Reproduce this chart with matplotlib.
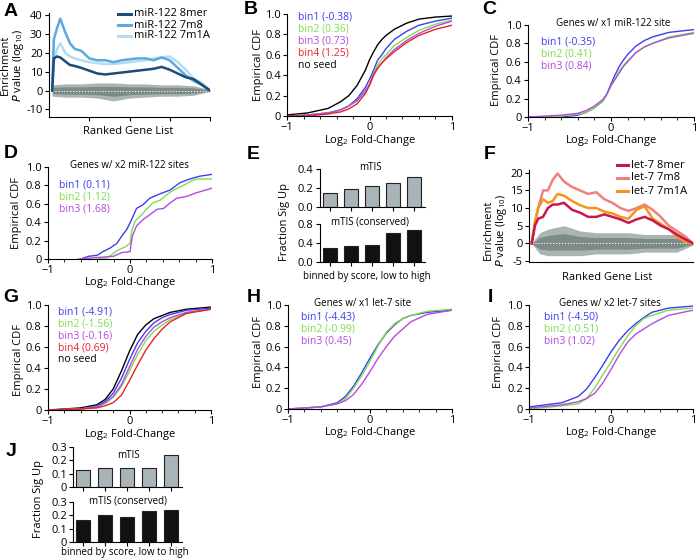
import numpy as np
import matplotlib
matplotlib.use("Agg")
import matplotlib.pyplot as plt

plt.rcParams['font.family'] = ['Open Sans', 'DejaVu Sans']
plt.rcParams['mathtext.default'] = 'regular'

W, H = 697, 559

# ---------------- data ----------------
# A: miR-122 enrichment
A_x = [0.02, 0.03, 0.05, 0.07, 0.1, 0.13, 0.16, 0.2, 0.25, 0.3, 0.35, 0.4,
       0.45, 0.5, 0.55, 0.6, 0.65, 0.7, 0.75, 0.8, 0.85, 0.9, 0.95, 1.0]
A_8mer = [0, 17, 18, 17.5, 15.5, 13.5, 13, 12, 10.5, 9, 8.5, 9,
          9.5, 10, 10.5, 11, 11.5, 12.5, 11, 9, 7, 6, 3, 0]
A_7m8 = [0, 27, 33, 38, 31, 25, 22, 21, 17, 16, 16, 15,
         16, 16.5, 17, 17, 16, 17.5, 16, 12, 8, 5, 3, 0]
A_7m1A = [0, 15, 22, 25, 20, 18, 17, 16, 15, 14.5, 14, 14,
          14.5, 15, 15.5, 16, 17, 17.5, 18, 15, 11, 6, 4, 0]
A_bg_x = [0.02, 0.1, 0.2, 0.3, 0.4, 0.5, 0.6, 0.7, 0.8, 0.9, 1.0]
A_bg_hi = [3, 3.5, 3.5, 4, 4, 3.5, 3.5, 3, 3, 2.5, 0.5]
A_bg_lo = [-3, -3.5, -3.5, -4, -5.5, -4, -3.5, -3, -3, -2.5, -0.5]

# F: let-7 enrichment
F_x = [0, 0.02, 0.04, 0.07, 0.1, 0.13, 0.16, 0.2, 0.25, 0.3, 0.35, 0.4,
       0.45, 0.5, 0.55, 0.6, 0.65, 0.7, 0.75, 0.8, 0.85, 0.9, 0.95, 1.0]
F_8mer = [0, 5, 7, 7.5, 10, 11, 11, 11.5, 9.5, 8.7, 7.5, 7.5,
          8.2, 7.5, 6.8, 5.8, 6.8, 7.5, 6.5, 5, 4, 2.5, 1.2, 0]
F_7m8 = [0, 6, 10, 15, 15, 18, 19.8, 17.5, 16, 15, 14, 14.5,
         12.5, 11.5, 10, 9.2, 10, 11, 9.5, 7.5, 5, 3.5, 2, 0]
F_7m1A = [0, 6, 10, 12.5, 11.5, 12, 14, 13.5, 12, 10.8, 10, 10,
          9, 8.5, 7.5, 7, 9.5, 10.5, 7, 5.5, 4, 2, 0.5, 0]
F_bg_x = [0.0, 0.05, 0.1, 0.2, 0.3, 0.4, 0.5, 0.6, 0.7, 0.8, 0.9, 1.0]
F_bg_hi = [0, 3, 4, 5, 3.5, 3, 3, 3, 2.5, 2.5, 2.5, 0.5]
F_bg_lo = [0, -3, -3.5, -3.5, -3.5, -3, -3, -3, -2.5, -2.5, -2.5, -0.5]

# B: miR-122 CDFs
B_x = [-1, -0.75, -0.5, -0.35, -0.25, -0.15, -0.05, 0, 0.05, 0.1, 0.15,
       0.2, 0.3, 0.45, 0.6, 0.8, 1]
B_noseed = [0.01, 0.03, 0.075, 0.14, 0.2, 0.3, 0.45, 0.55, 0.63, 0.7, 0.75,
            0.79, 0.85, 0.91, 0.95, 0.97, 0.98]
B_bin1 = [0.0, 0.01, 0.03, 0.06, 0.1, 0.17, 0.28, 0.36, 0.45, 0.55, 0.6,
          0.66, 0.75, 0.83, 0.89, 0.93, 0.96]
B_bin2 = [0.0, 0.01, 0.03, 0.06, 0.1, 0.15, 0.24, 0.31, 0.42, 0.5, 0.56,
          0.6, 0.69, 0.77, 0.84, 0.9, 0.94]
B_bin3 = [0.0, 0.01, 0.03, 0.06, 0.1, 0.15, 0.25, 0.31, 0.41, 0.47, 0.52,
          0.57, 0.65, 0.74, 0.81, 0.88, 0.93]
B_bin4 = [0.0, 0.0, 0.02, 0.04, 0.07, 0.12, 0.22, 0.3, 0.4, 0.47, 0.52,
          0.56, 0.63, 0.72, 0.79, 0.85, 0.89]
B_labels = ['bin1 (-0.38)', 'bin2 (0.36)', 'bin3 (0.73)', 'bin4 (1.25)', 'no seed']

# C: genes with one miR-122 site
C_x = [-1, -0.8, -0.6, -0.4, -0.3, -0.2, -0.1, -0.05, 0, 0.05, 0.1, 0.15,
       0.2, 0.3, 0.4, 0.5, 0.7, 1]
C_bin1 = [0, 0, 0.0, 0.02, 0.05, 0.1, 0.17, 0.25, 0.36, 0.46, 0.55, 0.62,
          0.68, 0.77, 0.83, 0.87, 0.92, 0.95]
C_bin2 = [0, 0, 0.01, 0.03, 0.05, 0.1, 0.17, 0.24, 0.34, 0.42, 0.5, 0.56,
          0.61, 0.7, 0.76, 0.8, 0.87, 0.92]
C_bin3 = [0, 0.01, 0.02, 0.04, 0.07, 0.12, 0.19, 0.25, 0.34, 0.41, 0.48, 0.55,
          0.6, 0.7, 0.76, 0.8, 0.86, 0.91]
C_labels = ['bin1 (-0.35)', 'bin2 (0.41)', 'bin3 (0.84)']

# D: genes with two miR-122 sites
D_x1 = [-0.57, -0.5, -0.4, -0.33, -0.24, -0.16, -0.1, -0.04, 0.02, 0.08, 0.16,
        0.24, 0.37, 0.49, 0.61, 0.73, 0.85, 1]
D_bin1 = [0.01, 0.03, 0.04, 0.08, 0.12, 0.17, 0.25, 0.32, 0.43, 0.55, 0.59,
          0.66, 0.71, 0.75, 0.83, 0.87, 0.9, 0.92]
D_x2 = [-0.4, -0.28, -0.22, -0.14, -0.06, 0, 0.02, 0.06, 0.12, 0.2, 0.28,
        0.37, 0.45, 0.53, 0.63, 0.73, 0.81, 1]
D_bin2 = [0.0, 0.01, 0.05, 0.1, 0.13, 0.17, 0.3, 0.41, 0.46, 0.54, 0.61,
          0.64, 0.7, 0.75, 0.79, 0.84, 0.87, 0.87]
D_x3 = [-0.63, -0.2, -0.1, 0, 0.03, 0.08, 0.16, 0.24, 0.33, 0.41, 0.49,
        0.57, 0.69, 0.81, 1]
D_bin3 = [0.0, 0.03, 0.07, 0.08, 0.25, 0.36, 0.43, 0.48, 0.54, 0.55, 0.61,
          0.66, 0.68, 0.72, 0.77]
D_labels = ['bin1 (0.11)', 'bin2 (1.12)', 'bin3 (1.68)']

# G: let-7 CDFs
GHI_x = [-1, -0.6, -0.4, -0.3, -0.2, -0.1, 0, 0.1, 0.2, 0.3, 0.4, 0.5, 0.7, 1]
G_noseed = [0.0, 0.02, 0.05, 0.1, 0.2, 0.37, 0.56, 0.72, 0.81, 0.87, 0.9, 0.93, 0.96, 0.98]
G_bin1 = [0.0, 0.01, 0.04, 0.08, 0.16, 0.3, 0.48, 0.64, 0.75, 0.83, 0.88, 0.91, 0.95, 0.97]
G_bin2 = [0.0, 0.01, 0.03, 0.06, 0.12, 0.22, 0.37, 0.53, 0.66, 0.75, 0.81, 0.86, 0.92, 0.96]
G_bin3 = [0.0, 0.01, 0.03, 0.07, 0.13, 0.24, 0.41, 0.58, 0.7, 0.79, 0.84, 0.88, 0.93, 0.96]
G_bin4 = [0.0, 0.01, 0.02, 0.04, 0.07, 0.14, 0.28, 0.43, 0.57, 0.68, 0.77, 0.84, 0.92, 0.96]
G_labels = ['bin1 (-4.91)', 'bin2 (-1.56)', 'bin3 (-0.16)', 'bin4 (0.69)', 'no seed']

# H: genes with one let-7 site
H_bin1 = [0.0, 0.02, 0.06, 0.12, 0.22, 0.35, 0.49, 0.62, 0.73, 0.81, 0.87, 0.9, 0.93, 0.95]
H_bin2 = [0.0, 0.02, 0.05, 0.1, 0.2, 0.32, 0.46, 0.61, 0.74, 0.82, 0.87, 0.9, 0.94, 0.96]
H_bin3 = [0.0, 0.02, 0.05, 0.08, 0.14, 0.24, 0.36, 0.49, 0.6, 0.7, 0.77, 0.84, 0.91, 0.95]
H_labels = ['bin1 (-4.43)', 'bin2 (-0.99)', 'bin3 (0.45)']

# I: genes with two let-7 sites
I_bin1 = [0.02, 0.06, 0.12, 0.19, 0.3, 0.42, 0.55, 0.66, 0.75, 0.82, 0.88, 0.93, 0.97, 0.99]
I_bin2 = [0.0, 0.03, 0.05, 0.1, 0.2, 0.33, 0.45, 0.58, 0.7, 0.8, 0.87, 0.9, 0.95, 0.97]
I_bin3 = [0.01, 0.04, 0.07, 0.1, 0.15, 0.25, 0.38, 0.52, 0.64, 0.72, 0.77, 0.82, 0.9, 0.95]
I_labels = ['bin1 (-4.50)', 'bin2 (-0.51)', 'bin3 (1.02)']

# E / J: fraction significantly up per score bin
E_mtis = [0.143, 0.193, 0.218, 0.25, 0.318]
E_cons = [0.297, 0.333, 0.354, 0.609, 0.673]
J_mtis = [0.127, 0.14, 0.145, 0.145, 0.237]
J_cons = [0.163, 0.205, 0.188, 0.233, 0.238]

BLUE, GREEN, PURPLE, RED = '#3d3df0', '#7fdc4f', '#b24be0', '#e8222a'

# ---------------- helpers ----------------
fig = plt.figure(figsize=(W / 100, H / 100), dpi=100)


def px_axes(l, t, r, b):
    return fig.add_axes([l / W, 1 - b / H, (r - l) / W, (b - t) / H])


def ptext(x, y, s, **kw):
    kw.setdefault('ha', 'center')
    kw.setdefault('va', 'center')
    kw.setdefault('fontsize', 8)
    return fig.text(x / W, 1 - y / H, s, **kw)


def style(ax):
    for side in ['top', 'right']:
        ax.spines[side].set_visible(False)
    for side in ['left', 'bottom']:
        ax.spines[side].set_linewidth(0.8)
    ax.tick_params(labelsize=8, direction='out', length=3, width=0.8, pad=1.5)
    ax.tick_params(which='minor', direction='out', length=2, width=0.6)


def cdf_axes(box, curves, labels, leg_xy, title=None, title_xy=None):
    ax = px_axes(*box)
    style(ax)
    for xs, ys, c in curves:
        ax.plot(xs, ys, color=c, lw=1.0)
    ax.set_xlim(-1, 1)
    ax.set_ylim(0, 1)
    ax.set_xticks([-1, 0, 1])
    ax.set_xticklabels(['\u22121', '0', '1'])
    ax.set_xticks(np.arange(-0.8, 1.0, 0.2), minor=True)
    ax.set_yticks([0, 0.2, 0.4, 0.6, 0.8, 1.0])
    ax.set_yticklabels(['0', '0.2', '0.4', '0.6', '0.8', '1.0'])
    lx, ly = leg_xy
    cols = [BLUE, GREEN, PURPLE, RED]
    for i, lab in enumerate(labels):
        c = 'black' if lab == 'no seed' else cols[i]
        ptext(lx, ly + i * 12, lab, ha='left', color=c, fontsize=7.5)
    if title:
        ptext(title_xy[0], title_xy[1], title, fontsize=7)
    return ax


def enrich_axes(box, xs, series, bg_x, bg_hi, bg_lo, ylim, yticks, xlim):
    ax = px_axes(*box)
    style(ax)
    ax.fill_between(bg_x, bg_lo, bg_hi, color='#aab4b2', lw=0)
    mid_hi = [0.55 * v for v in bg_hi]
    mid_lo = [0.55 * v for v in bg_lo]
    ax.fill_between(bg_x, mid_lo, mid_hi, color='#7d8a87', lw=0)
    ax.plot([bg_x[0], bg_x[-1]], [0, 0], color='white', lw=0.8, ls=':')
    for ys, c in series:
        ax.plot(xs, ys, color=c, lw=1.8)
    ax.set_xlim(*xlim)
    ax.set_ylim(*ylim)
    ax.set_yticks(yticks)
    ax.set_yticklabels([str(v) for v in yticks])
    return ax


def bar_pair(top_box, bot_box, top_vals, bot_vals, top_ylim, top_ticks, top_lbls,
             bot_ylim, bot_ticks, bot_lbls, t1_xy, t2_xy):
    pos = np.arange(len(top_vals))
    for box, vals, color, yl, tk, tl in [(top_box, top_vals, '#a9b4b8', top_ylim, top_ticks, top_lbls),
                                          (bot_box, bot_vals, '#111111', bot_ylim, bot_ticks, bot_lbls)]:
        ax = px_axes(*box)
        style(ax)
        ax.bar(pos, vals, width=0.66, color=color, edgecolor='#222222', lw=0.8)
        ax.set_xlim(-0.45, 4.5)
        ax.set_ylim(*yl)
        ax.set_xticks(pos)
        ax.set_xticklabels([])
        ax.set_yticks(tk)
        ax.set_yticklabels(tl)
    ptext(*t1_xy, 'mTIS', fontsize=7)
    ptext(*t2_xy, 'mTIS (conserved)', fontsize=7)


# ---------------- A ----------------
axA = enrich_axes((49, 13, 210, 117), A_x,
                  [(A_7m1A, '#b5dcf2'), (A_7m8, '#5aaae2'), (A_8mer, '#1e4a78')],
                  A_bg_x, A_bg_hi, A_bg_lo, (-14, 41), [-10, 0, 10, 20, 30, 40], (0, 1))
axA.set_xticks([0.25, 0.5, 0.75, 1.0])
axA.set_xticklabels([])
for i, (lab, c) in enumerate([('miR-122 8mer', '#1e4a78'), ('miR-122 7m8', '#5aaae2'),
                              ('miR-122 7m1A', '#b5dcf2')]):
    y = 14 + i * 11
    fig.add_artist(plt.Line2D([118 / W, 131 / W], [1 - y / H, 1 - y / H], color=c, lw=2.2))
    ptext(134, y, lab, ha='left', fontsize=8)
ptext(128, 132, 'Ranked Gene List')
ptext(13, 65, 'Enrichment\n$\\it{P}$ value (log$_{10}$)', rotation=90, linespacing=1.0)

# ---------------- B ----------------
cdf_axes((287, 14, 452, 116),
         [(B_x, B_noseed, 'black'), (B_x, B_bin1, BLUE), (B_x, B_bin2, GREEN),
          (B_x, B_bin3, PURPLE), (B_x, B_bin4, RED)],
         B_labels, (298, 17))
ptext(370, 140, 'Log$_2$ Fold-Change')
ptext(258, 65, 'Empirical CDF', rotation=90)

# ---------------- C ----------------
cdf_axes((528, 25, 694, 117),
         [(C_x, C_bin1, BLUE), (C_x, C_bin2, GREEN), (C_x, C_bin3, PURPLE)],
         C_labels, (541, 42), 'Genes w/ x1 miR-122 site', (613, 23))
ptext(611, 141, 'Log$_2$ Fold-Change')
ptext(497, 70, 'Empirical CDF', rotation=90)

# ---------------- D ----------------
cdf_axes((48, 167, 212, 259),
         [(D_x1, D_bin1, BLUE), (D_x2, D_bin2, GREEN), (D_x3, D_bin3, PURPLE)],
         D_labels, (59, 185), 'Genes w/ x2 miR-122 sites', (130, 166))
ptext(130, 283, 'Log$_2$ Fold-Change')
ptext(16, 213, 'Empirical CDF', rotation=90)

# ---------------- E ----------------
bar_pair((320, 169, 425, 207), (320, 224, 425, 262), E_mtis, E_cons,
         (0, 0.4), [0, 0.2, 0.4], ['0.0', '0.2', '0.4'],
         (0, 0.8), [0, 0.4, 0.8], ['0.0', '0.4', '0.8'], (370, 167), (370, 222))
ptext(285, 222, 'Fraction Sig Up', rotation=90)
ptext(367, 276, 'binned by score, low to high', fontsize=7)

# ---------------- F ----------------
axF = enrich_axes((529, 170, 693, 262), F_x,
                  [(F_7m8, '#f08080'), (F_7m1A, '#f7941d'), (F_8mer, '#c9184a')],
                  F_bg_x, F_bg_hi, F_bg_lo, (-5.3, 20.8), [-5, 0, 5, 10, 15, 20], (-0.017, 1))
axF.set_xticks([])
for i, (lab, c) in enumerate([('let-7 8mer', '#c9184a'), ('let-7 7m8', '#f08080'),
                              ('let-7 7m1A', '#f7941d')]):
    y = 165 + i * 13
    fig.add_artist(plt.Line2D([617 / W, 628 / W], [1 - y / H, 1 - y / H], color=c, lw=2.2))
    ptext(631, y, lab, ha='left', fontsize=8)
ptext(607, 277, 'Ranked Gene List')
ptext(496, 230, 'Enrichment\n$\\it{P}$ value (log$_{10}$)', rotation=90, linespacing=1.0)

# ---------------- G ----------------
cdf_axes((48, 305, 211, 410),
         [(GHI_x, G_noseed, 'black'), (GHI_x, G_bin1, BLUE), (GHI_x, G_bin2, GREEN),
          (GHI_x, G_bin3, PURPLE), (GHI_x, G_bin4, RED)],
         G_labels, (58, 312))
ptext(130, 434, 'Log$_2$ Fold-Change')
ptext(19, 360, 'Empirical CDF', rotation=90)

# ---------------- H ----------------
cdf_axes((288, 305, 452, 409),
         [(GHI_x, H_bin1, BLUE), (GHI_x, H_bin2, GREEN), (GHI_x, H_bin3, PURPLE)],
         H_labels, (301, 317), 'Genes w/ x1 let-7 site', (363, 304))
ptext(370, 433, 'Log$_2$ Fold-Change')
ptext(258, 352, 'Empirical CDF', rotation=90)

# ---------------- I ----------------
cdf_axes((529, 305, 693, 409),
         [(GHI_x, I_bin1, BLUE), (GHI_x, I_bin2, GREEN), (GHI_x, I_bin3, PURPLE)],
         I_labels, (544, 317), 'Genes w/ x2 let-7 sites', (610, 303))
ptext(611, 433, 'Log$_2$ Fold-Change')
ptext(499, 352, 'Empirical CDF', rotation=90)

# ---------------- J ----------------
bar_pair((73, 447, 182, 487), (73, 502, 182, 542), J_mtis, J_cons,
         (0, 0.3), [0, 0.1, 0.2, 0.3], ['0', '0.1', '0.2', '0.3'],
         (0, 0.3), [0, 0.1, 0.2, 0.3], ['0', '0.1', '0.2', '0.3'], (128, 456), (128, 501))
ptext(39, 499, 'Fraction Sig Up', rotation=90)
ptext(125, 553, 'binned by score, low to high', fontsize=7)

# panel letters
for lab, x, y in [('A', 11, 11), ('B', 251, 10), ('C', 489, 10), ('D', 11, 154),
                  ('E', 253, 155), ('F', 490, 155), ('G', 11, 298), ('H', 254, 297),
                  ('I', 490, 297), ('J', 11, 452)]:
    ptext(x, y, lab, fontsize=14, fontweight='bold', family='Liberation Sans')

fig.savefig('out.png', dpi=100)
